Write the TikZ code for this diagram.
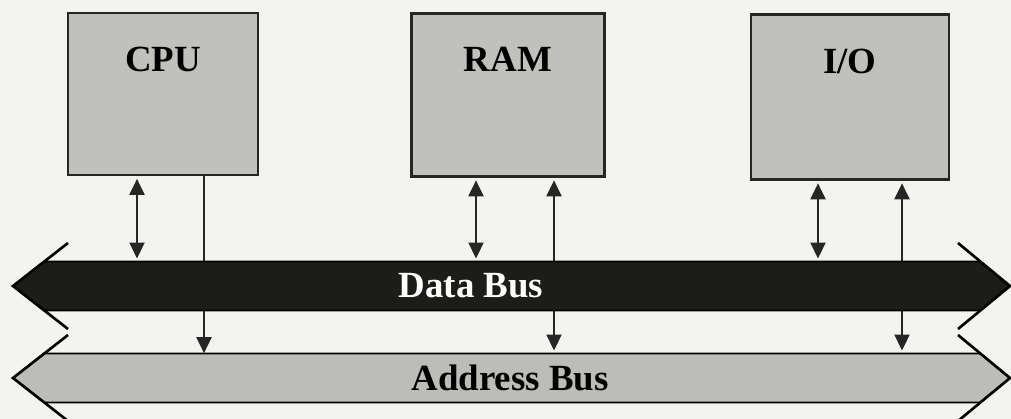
\documentclass[tikz,border=0pt]{standalone}
\usepackage{fontspec}
\setmainfont{Liberation Serif}
\definecolor{paper}{RGB}{243,243,239}
\definecolor{unitgray}{RGB}{192,192,189}
\definecolor{busblack}{RGB}{28,28,24}
\definecolor{busgray}{RGB}{188,188,185}
\usetikzlibrary{positioning, arrows.meta, backgrounds}

\begin{document}
\begin{tikzpicture}[x=0.02cm, y=-0.02cm,
  unit/.style={draw=black!85, line width=1.4pt, fill=unitgray, inner sep=0pt},
  unitlbl/.style={anchor=north, inner sep=0pt, yshift=-0.7cm, font=\bfseries\fontsize{21}{25}\selectfont},
  buslbl/.style={inner sep=0pt, minimum height=0.98cm, font=\bfseries\fontsize{21}{25}\selectfont},
  wing/.style={line width=1.5pt, black, line join=miter},
  both/.style={line width=1.2pt, black!85, {Triangle[length=3.2mm, width=3mm]}-{Triangle[length=3.2mm, width=3mm]},
    shorten <=1.5pt, shorten >=1.5pt},
  down/.style={line width=1.2pt, black!85, -{Triangle[length=3.2mm, width=3mm]}},
]
\useasboundingbox (0,0) rectangle (1011,419);
\begin{scope}[on background layer]
  \fill[paper] (0,0) rectangle (1011,419);
\end{scope}

% units
\node[unit, minimum width=3.8cm, minimum height=3.24cm, label={[unitlbl]north:CPU}] (cpu) at (163,94) {};
\node[unit, minimum width=3.86cm, minimum height=3.26cm, label={[unitlbl]north:RAM}] (ram) at (508,95) {};
\node[unit, minimum width=3.96cm, minimum height=3.3cm, label={[unitlbl]north:I/O}] (io) at (850,97) {};

% buses
\foreach \yc/\fc in {286/busblack, 378/busgray}{
  \filldraw[fill=\fc, draw=black, line width=1pt]
    (44,\yc-24.5) -- (980,\yc-24.5) -- (1010,\yc) -- (980,\yc+24.5) -- (44,\yc+24.5) -- (13,\yc) -- cycle;
  \draw[wing] (68,\yc-43) -- (13,\yc) -- (68,\yc+43);
  \draw[wing] (958,\yc-43) -- (1010,\yc) -- (958,\yc+43);
}
\node[buslbl, text=white] (databus) at (471,286) {Data Bus};
\node[buslbl, text=black] (addrbus) at (510,378) {Address Bus};

% links (behind the buses)
\coordinate (c1) at (137,0);
\coordinate (c2) at (204,0);
\coordinate (r1) at (476,0);
\coordinate (r2) at (554,0);
\coordinate (i1) at (818,0);
\coordinate (i2) at (902,0);
\begin{scope}[on background layer]
\draw[both] (cpu.south -| c1) -- (databus.north -| c1);
\draw[down] (cpu.south -| c2) -- (addrbus.north -| c2);
\draw[both] (ram.south -| r1) -- (databus.north -| r1);
\draw[both] (ram.south -| r2) -- (addrbus.north -| r2);
\draw[both] (io.south -| i1) -- (databus.north -| i1);
\draw[both] (io.south -| i2) -- (addrbus.north -| i2);
\end{scope}
\end{tikzpicture}
\end{document}
